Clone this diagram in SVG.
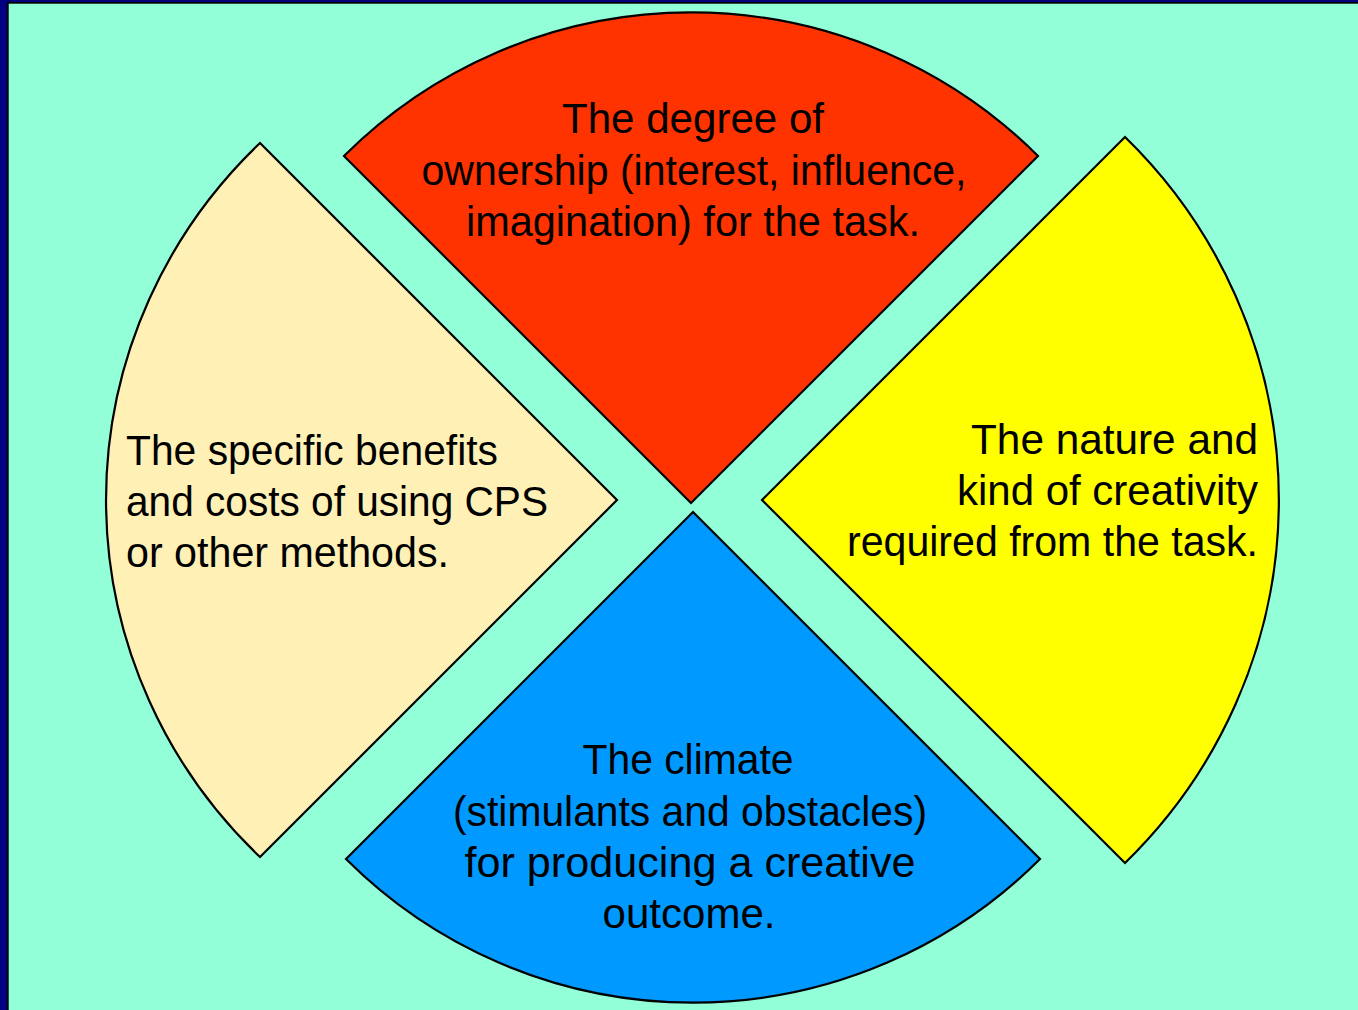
<svg xmlns="http://www.w3.org/2000/svg" width="1358" height="1010" viewBox="0 0 1358 1010">
<style>
.wedge{stroke:#000;stroke-width:2.2;stroke-linejoin:miter}
.t{font-family:"Liberation Sans",Arial,sans-serif;font-size:42px;fill:#000}
.c{text-anchor:middle}
.r{text-anchor:end}
</style>
<rect x="0" y="0" width="1358" height="1010" fill="#000080"/>
<rect x="7.8" y="2.8" width="1360" height="1020" fill="#92FFD9" stroke="#000" stroke-width="1.8"/>
<g id="top-wedge">
<path class="wedge" fill="#FF3300" d="M691,503 L344,156 A491,491 0 0,1 1038,156 Z"/>
<text class="t c" x="693" y="133" textLength="262" lengthAdjust="spacingAndGlyphs">The degree of</text>
<text class="t c" x="694" y="185" textLength="545" lengthAdjust="spacingAndGlyphs">ownership (interest, influence,</text>
<text class="t c" x="693" y="236" textLength="454" lengthAdjust="spacingAndGlyphs">imagination) for the task.</text>
</g>
<g id="right-wedge">
<path class="wedge" fill="#FFFF00" d="M762,500 L1125,137 A517,510 0 0,1 1125,863 Z"/>
<text class="t r" x="1258" y="454" textLength="287" lengthAdjust="spacingAndGlyphs">The nature and</text>
<text class="t r" x="1258" y="505" textLength="301" lengthAdjust="spacingAndGlyphs">kind of creativity</text>
<text class="t r" x="1258" y="556" textLength="411" lengthAdjust="spacingAndGlyphs">required from the task.</text>
</g>
<g id="bottom-wedge">
<path class="wedge" fill="#0099FF" d="M693,512 L1040,859 A491,491 0 0,1 346,859 Z"/>
<text class="t c" x="688" y="774" textLength="211" lengthAdjust="spacingAndGlyphs">The climate</text>
<text class="t c" x="690" y="826" textLength="474" lengthAdjust="spacingAndGlyphs">(stimulants and obstacles)</text>
<text class="t c" x="690" y="877" textLength="451" lengthAdjust="spacingAndGlyphs">for producing a creative</text>
<text class="t c" x="689" y="928" textLength="173" lengthAdjust="spacingAndGlyphs">outcome.</text>
</g>
<g id="left-wedge">
<path class="wedge" fill="#FFF0B5" d="M617,500 L260,857 A511,499 0 0,1 260,143 Z"/>
<text class="t" x="126" y="465" textLength="372" lengthAdjust="spacingAndGlyphs">The specific benefits</text>
<text class="t" x="126" y="516" textLength="422" lengthAdjust="spacingAndGlyphs">and costs of using CPS</text>
<text class="t" x="126" y="567" textLength="323" lengthAdjust="spacingAndGlyphs">or other methods.</text>
</g>
<g id="connectors"></g>
</svg>
